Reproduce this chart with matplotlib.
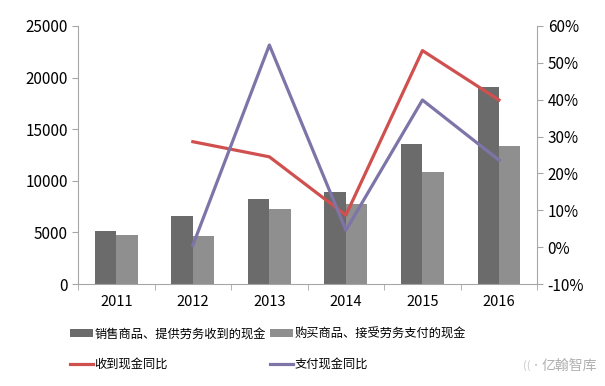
import numpy as np
import matplotlib.pyplot as plt

plt.rcParams['font.family'] = ['Noto Sans CJK SC', 'DejaVu Sans']

years = ["2011", "2012", "2013", "2014", "2015", "2016"]
cash_received = [5100, 6600, 8200, 8900, 13600, 19100]
cash_paid = [4800, 4700, 7300, 7750, 10850, 13400]
received_yoy = [None, 28.6, 24.5, 8.7, 53.3, 39.9]
paid_yoy = [None, 0.5, 54.8, 4.6, 39.9, 23.6]

dark = "#6b6b6b"
light = "#8f8f8f"
red = "#d0504f"
purple = "#7f74a8"
axis_c = "#a6a6a6"

fig = plt.figure(figsize=(6.05, 3.86), dpi=100)
ax = fig.add_axes([0.129, 0.264, 0.759, 0.669])
ax2 = ax.twinx()

x = np.arange(len(years))
w = 0.28
b1 = ax.bar(x - w / 2, cash_received, w, color=dark)
b2 = ax.bar(x + w / 2, cash_paid, w, color=light)

xr = [i for i, v in zip(x, received_yoy) if v is not None]
yr = [v for v in received_yoy if v is not None]
xp = [i for i, v in zip(x, paid_yoy) if v is not None]
yp = [v for v in paid_yoy if v is not None]
l1, = ax2.plot(xr, yr, color=red, lw=2.3)
l2, = ax2.plot(xp, yp, color=purple, lw=2.3)

ax.set_xlim(-0.5, len(years) - 0.5)
ax.set_ylim(0, 25000)
ax.set_yticks(range(0, 25001, 5000))
ax2.set_ylim(-10, 60)
ax2.set_yticks(range(-10, 61, 10))
ax2.set_yticklabels([f"{v}%" for v in range(-10, 61, 10)])

ax.set_xticks(x)
ax.set_xticklabels(years)
ax.set_xticks(np.arange(-0.5, len(years), 1), minor=True)
ax.tick_params(axis='x', which='major', length=0, labelsize=10.5, pad=8)
ax.tick_params(axis='x', which='minor', length=4, color=axis_c)
ax.tick_params(axis='y', length=4, color=axis_c, labelsize=11)
ax2.tick_params(axis='y', length=4, color=axis_c, labelsize=11)

for a in (ax, ax2):
    for s in a.spines.values():
        s.set_visible(False)
ax.spines['left'].set_visible(True)
ax.spines['bottom'].set_visible(True)
ax2.spines['right'].set_visible(True)
for s in (ax.spines['left'], ax.spines['bottom'], ax2.spines['right']):
    s.set_color(axis_c)

# legend filled column by column: b1, l1 | b2, l2
fig.legend([b1, l1, b2, l2],
           ["销售商品、提供劳务收到的现金", "收到现金同比", "购买商品、接受劳务支付的现金", "支付现金同比"],
           loc='upper left', bbox_to_anchor=(0.108, 0.165), ncol=2, frameon=False,
           fontsize=8.8, handlelength=1.9, handletextpad=0.1, columnspacing=0.3,
           labelspacing=1.45, borderaxespad=0)

fig.text(0.895, 0.052, "亿翰智库", color="#b0b0b0", fontsize=10, ha='left', va='center')
fig.text(0.865, 0.052, "((·", color="#c8c8c8", fontsize=8, ha='left', va='center')

fig.savefig("out.png", dpi=100)
